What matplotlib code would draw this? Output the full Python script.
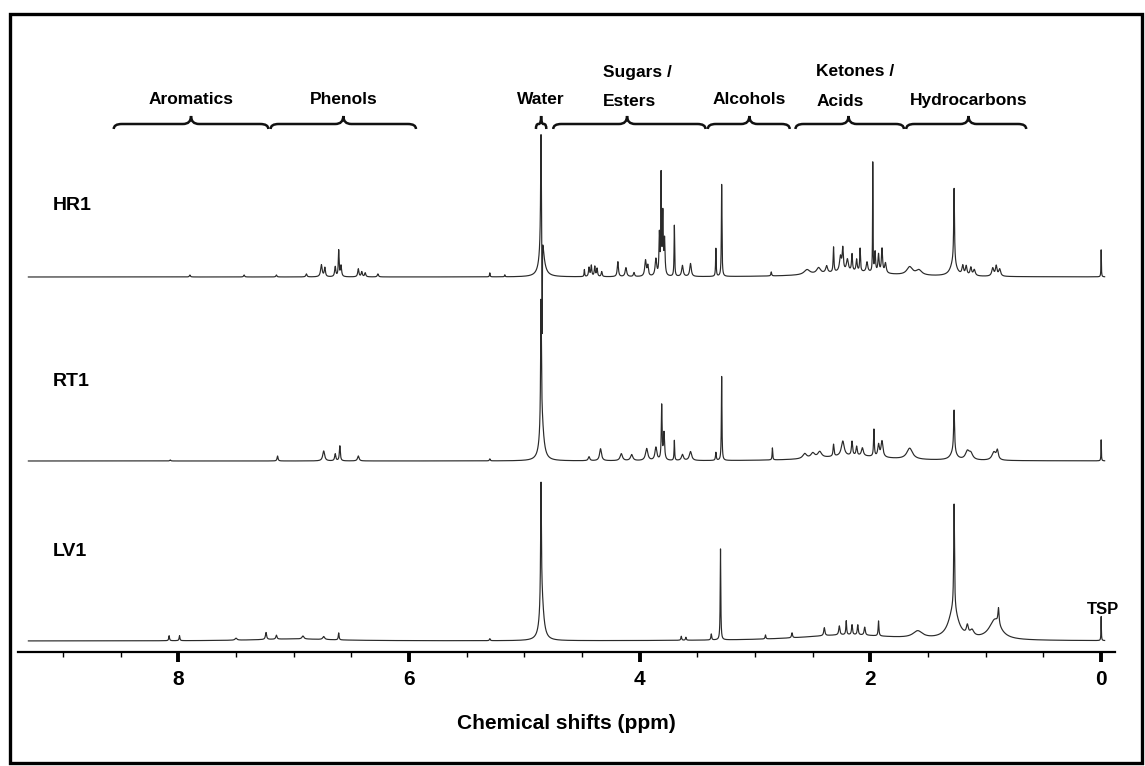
import numpy as np
import matplotlib
matplotlib.use("Agg")
import matplotlib.pyplot as plt
from matplotlib.path import Path
from matplotlib.patches import PathPatch, Rectangle

plt.rcParams['font.family'] = ['Liberation Sans', 'DejaVu Sans']
plt.rcParams['font.weight'] = 'bold'

# ---------------- data ----------------
sample_names = ['HR1', 'RT1', 'LV1']

# HR1 peaks: position (ppm), height (a.u.), half-width (ppm)
hr1_ppm = [7.90, 7.43, 7.15, 6.89, 6.76, 6.73, 6.64, 6.61, 6.59, 6.44, 6.41, 6.38, 6.27,
           5.30, 5.17, 4.856, 4.850, 4.846,
           4.48, 4.44, 4.42, 4.39, 4.37, 4.33, 4.19, 4.12, 4.05, 3.95, 3.93, 3.86,
           3.83, 3.815, 3.80, 3.785, 3.70, 3.63, 3.56, 3.34, 3.29, 2.86,
           2.55, 2.45, 2.38, 2.32, 2.26, 2.24, 2.20, 2.16, 2.12, 2.09, 2.03, 1.98,
           1.96, 1.93, 1.90, 1.87, 1.66, 1.58, 1.275, 1.28, 1.20, 1.17, 1.13, 1.10,
           0.94, 0.91, 0.88, 0.0, 2.15]
hr1_height = [2, 2, 2, 3, 12, 9, 10, 26, 11, 8, 5, 4, 3,
              4, 2, 108, 40, -110,
              7, 9, 11, 10, 8, 5, 15, 9, 4, 16, 10, 17,
              40, 98, 60, 35, 51, 11, 13, 28, 92, 4,
              5, 6, 7, 25, 15, 22, 12, 17, 12, 23, 10, 109,
              20, 18, 24, 10, 8, 5, 74, 14, 9, 9, 8, 6,
              8, 10, 7, 27, 5]
hr1_width = [0.005, 0.005, 0.005, 0.006, 0.008, 0.006, 0.006, 0.004, 0.006, 0.006, 0.006, 0.006, 0.006,
             0.003, 0.003, 0.004, 0.02, 0.0015,
             0.003, 0.005, 0.005, 0.005, 0.005, 0.005, 0.006, 0.008, 0.006, 0.008, 0.006, 0.008,
             0.004, 0.003, 0.004, 0.005, 0.003, 0.008, 0.008, 0.003, 0.003, 0.004,
             0.03, 0.02, 0.01, 0.004, 0.01, 0.006, 0.01, 0.005, 0.006, 0.004, 0.008, 0.002,
             0.005, 0.006, 0.006, 0.008, 0.03, 0.03, 0.004, 0.03, 0.008, 0.008, 0.008, 0.01,
             0.01, 0.008, 0.01, 0.002, 0.35]

# RT1 peaks
rt1_ppm = [8.07, 7.14, 6.74, 6.64, 6.60, 6.44, 5.30, 4.856, 4.850,
           4.44, 4.34, 4.16, 4.07, 3.94, 3.86, 3.81, 3.79, 3.70, 3.63, 3.56, 3.34, 3.29,
           2.85, 2.57, 2.50, 2.44, 2.32, 2.24, 2.16, 2.12, 2.07, 1.97, 1.93, 1.90,
           1.66, 1.275, 1.28, 1.16, 1.13, 0.93, 0.90, 0.0, 2.15]
rt1_height = [1, 5, 10, 7, 15, 5, 2, 125, 40,
              4, 12, 7, 6, 12, 13, 54, 27, 20, 6, 9, 8, 84,
              12, 5, 5, 6, 12, 15, 14, 9, 8, 27, 12, 16,
              11, 42, 8, 8, 6, 8, 9, 21, 5]
rt1_width = [0.005, 0.005, 0.01, 0.006, 0.005, 0.008, 0.004, 0.004, 0.02,
             0.008, 0.01, 0.012, 0.012, 0.012, 0.01, 0.004, 0.006, 0.003, 0.01, 0.012, 0.004, 0.003,
             0.003, 0.02, 0.02, 0.02, 0.005, 0.015, 0.006, 0.006, 0.01, 0.004, 0.008, 0.01,
             0.03, 0.005, 0.03, 0.02, 0.02, 0.02, 0.01, 0.002, 0.35]

# LV1 peaks
lv1_ppm = [8.08, 7.99, 7.50, 7.24, 7.15, 6.92, 6.74, 6.61, 5.30, 4.856, 4.850,
           3.64, 3.60, 3.38, 3.30, 2.91, 2.68, 2.40, 2.27, 2.21, 2.16, 2.11, 2.05,
           1.93, 1.59, 1.275, 1.28, 1.16, 1.12, 0.89, 0.92, 0.0, 2.2, 7.0]
lv1_height = [5, 5, 2, 7, 4, 3, 3, 7, 2, 120, 42,
              4, 3, 6, 91, 4, 5, 8, 9, 14, 10, 10, 8,
              15, 7, 105, 30, 9, 6, 16, 20, 24, 6, 2]
lv1_width = [0.004, 0.004, 0.01, 0.006, 0.006, 0.01, 0.01, 0.004, 0.004, 0.004, 0.02,
             0.004, 0.004, 0.004, 0.003, 0.004, 0.005, 0.006, 0.006, 0.004, 0.005, 0.005, 0.006,
             0.004, 0.05, 0.004, 0.05, 0.01, 0.02, 0.006, 0.06, 0.002, 0.5, 0.4]

# region braces (ppm)
region_lines = [['Aromatics'], ['Phenols'], ['Water'], ['Sugars /', 'Esters'],
                ['Alcohols'], ['Ketones /', 'Acids'], ['Hydrocarbons']]
region_start = [8.56, 7.20, 4.90, 4.75, 3.41, 2.65, 1.69]
region_end = [7.22, 5.94, 4.81, 3.43, 2.70, 1.71, 0.65]
region_tip = [7.89, 6.57, 4.855, 4.11, 3.05, 2.19, 1.15]

major_ticks = [8, 6, 4, 2, 0]
minor_ticks = [9.0, 8.5, 7.5, 7.0, 6.5, 5.5, 5.0, 4.5, 3.5, 3.0, 2.5, 1.5, 1.0, 0.5]

# ---------------- layout ----------------
W, H = 1145, 766
fig = plt.figure(figsize=(W / 100, H / 100), dpi=100)
ax_left, ax_right, ax_bottom_px, ax_top_px = 18, 1115, 652, 14
ax = fig.add_axes([ax_left / W, (H - ax_bottom_px) / H,
                   (ax_right - ax_left) / W, (ax_bottom_px - ax_top_px) / H])
ax.set_xlim(9.39, -0.12)
ax.set_ylim(0, ax_bottom_px - ax_top_px)

baselines = {'HR1': 375, 'RT1': 191, 'LV1': 11}
label_y = {'HR1': 447, 'RT1': 270, 'LV1': 100}
# left anchor shift (ppm from the brace tip) for two-line region labels
two_line_shift = {'Sugars /': 0.21, 'Ketones /': 0.28}

ppm = np.linspace(9.30, -0.03, 60000)


def spectrum(pos, hts, wids):
    y = np.zeros_like(ppm)
    for p, h, w in zip(pos, hts, wids):
        y += h * w ** 2 / ((ppm - p) ** 2 + w ** 2)
    return y


spectra = {'HR1': (hr1_ppm, hr1_height, hr1_width),
           'RT1': (rt1_ppm, rt1_height, rt1_width),
           'LV1': (lv1_ppm, lv1_height, lv1_width)}

for name in sample_names:
    y = spectrum(*spectra[name]) + baselines[name]
    ax.plot(ppm, y, color='#2a2a2a', lw=0.85, clip_on=False)
    ax.text(9.09, label_y[name], name, fontsize=14, fontweight='bold',
            ha='left', va='center')

ax.text(-0.02, 42, 'TSP', fontsize=12, fontweight='bold', ha='center', va='center')


# braces
def brace(x0, x1, tip, yb=523, ym=528, yt=536, r=0.07):
    s = 1 if x0 > x1 else -1
    verts = [(x0, yb), (x0, ym), (x0 - s * r, ym),
             (tip + s * r, ym), (tip, ym), (tip, yt),
             (tip, ym), (tip - s * r, ym),
             (x1 + s * r, ym), (x1, ym), (x1, yb)]
    codes = [Path.MOVETO, Path.CURVE3, Path.CURVE3,
             Path.LINETO, Path.CURVE3, Path.CURVE3,
             Path.CURVE3, Path.CURVE3,
             Path.LINETO, Path.CURVE3, Path.CURVE3]
    return Path(verts, codes)


for lines, a, b, t in zip(region_lines, region_start, region_end, region_tip):
    rr = 0.07 if (a - b) > 0.3 else 0.02
    pth = brace(a, b, t, r=rr)
    ax.add_patch(PathPatch(pth, fill=False, lw=1.8, color='#111111', clip_on=False))
    if len(lines) == 1:
        ax.text(t, 552, lines[0], fontsize=12.5,
                fontweight='bold', ha='center', va='center')
    else:
        xl = t + two_line_shift[lines[0]]
        ax.text(xl, 580, lines[0], fontsize=12.5, fontweight='bold', ha='left', va='center')
        ax.text(xl, 551, lines[1], fontsize=12.5, fontweight='bold', ha='left', va='center')

# axis styling
for s in ['top', 'left', 'right']:
    ax.spines[s].set_visible(False)
ax.spines['bottom'].set_linewidth(1.6)
ax.set_yticks([])
ax.set_xticks(major_ticks)
ax.set_xticklabels([str(t) for t in major_ticks])
ax.set_xticks(minor_ticks, minor=True)
ax.tick_params(axis='x', which='major', direction='out', length=7, width=2.8,
               labelsize=15, pad=6)
ax.tick_params(axis='x', which='minor', direction='out', length=3.5, width=1.0)
for lab in ax.get_xticklabels():
    lab.set_fontweight('bold')
ax.set_xlabel('Chemical shifts (ppm)', fontsize=15, fontweight='bold', labelpad=18)

# outer frame
fig.patches.append(Rectangle((10 / W, 3 / H), (1142 - 10) / W, (763 - 14) / H,
                             transform=fig.transFigure, fill=False, lw=2.4,
                             edgecolor='black'))

fig.savefig('out.png', dpi=100)
